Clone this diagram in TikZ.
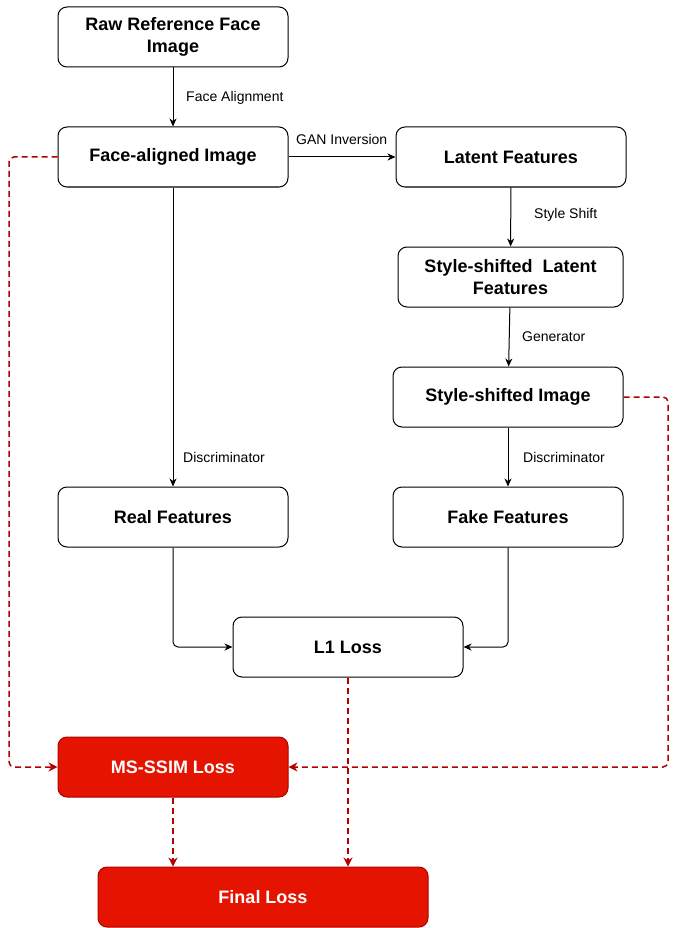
\documentclass[tikz,border=0pt]{standalone}
\usepackage{fontspec}
\setmainfont{Liberation Sans}
\usetikzlibrary{arrows.meta}
\definecolor{lossred}{HTML}{E51400}
\definecolor{lossedge}{HTML}{B20000}

\begin{document}
\begin{tikzpicture}
        [x=1pt,y=-1pt,
         box/.style={draw,line width=1pt,rounded corners=9pt,minimum width=230pt,minimum height=60pt,
           inner sep=0pt,align=center,font=\fontsize{18}{22}\selectfont\bfseries},
         redbox/.style={box,fill=lossred,draw=lossedge,text=white},
         lbl/.style={anchor=west,inner sep=0pt,font=\fontsize{14}{16}\selectfont},
         flow/.style={line width=1pt,-{Stealth[length=8pt,width=7pt,inset=2.5pt]}},
         redflow/.style={line width=1.5pt,draw=lossedge,dash pattern=on 6pt off 4pt,
           rounded corners=5pt,-{Stealth[length=9pt,width=9pt,inset=3pt]}}]
        \useasboundingbox (0,0) rectangle (677,928);

        % boxes
        \node[box] (raw) at (173,37) {Raw Reference Face\\Image};
        \node[box] (face) at (173,157) {Face-aligned Image};
        \node[box] (latent) at (511,157) {Latent Features};
        \node[box,minimum width=225pt] (sslatent) at (510.5,277) {Style-shifted\ \ Latent\\Features};
        \node[box] (ssimg) at (508,397) {Style-shifted Image};
        \node[box] (real) at (173,517) {Real Features};
        \node[box] (fake) at (508,517) {Fake Features};
        \node[box] (l1) at (348,647) {L1 Loss};
        \node[redbox] (msssim) at (173,767) {MS-SSIM Loss};
        \node[redbox,minimum width=330pt] (final) at (263,897) {Final Loss};

        % solid connectors
        \draw[flow] (raw) -- (face);
        \draw[flow] (face) -- (latent);
        \draw[flow] (latent) -- (sslatent);
        \draw[flow] (sslatent) -- (ssimg);
        \draw[flow] (ssimg) -- (fake);
        \draw[flow] (face) -- (real);
        \draw[flow,rounded corners=5pt] (real.south) |- (l1.west);
        \draw[flow,rounded corners=5pt] (fake.south) |- (l1.east);

        % labels
        \node[lbl] (alignlbl) at (186,98) {Face Alignment};
        \node[lbl] (ganlbl) at (296,139) {GAN Inversion};
        \node[lbl] (shiftlbl) at (534,215) {Style Shift};
        \node[lbl] (genlbl) at (522,337) {Generator};
        \node[lbl] (disclbl) at (183,457) {Discriminator};
        \node[lbl] (disclbr) at (523,457) {Discriminator};

        % dashed loss connectors
        \draw[redflow] (face.west) -- (9,157) |- (msssim.west);
        \draw[redflow] (ssimg.east) -- (668,397) |- (msssim.east);
        \draw[redflow] (l1.south) -- (l1.south |- final.north);
        \draw[redflow] (msssim.south) -- (msssim.south |- final.north);
      \end{tikzpicture}
\end{document}
